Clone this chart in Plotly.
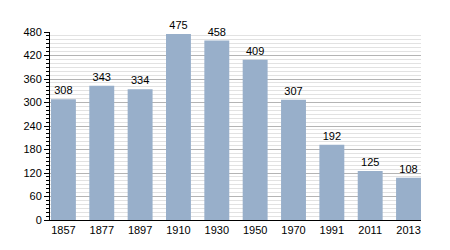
import plotly.graph_objects as go

years = ["1857", "1877", "1897", "1910", "1930", "1950", "1970", "1991", "2011", "2013"]
population = [308, 343, 334, 475, 458, 409, 307, 192, 125, 108]
y_ticks = [0, 60, 120, 180, 240, 300, 360, 420, 480]

positions = list(range(len(years)))

fig = go.Figure()
fig.add_trace(go.Bar(
    x=positions,
    y=population,
    width=0.65,
    marker=dict(color="#98AFCA", line=dict(width=0)),
    text=[str(v) for v in population],
    textposition="outside",
    textfont=dict(family="Liberation Sans, Arial, sans-serif", size=11, color="#000000"),
    cliponaxis=False,
))

fig.update_layout(
    width=450,
    height=250,
    margin=dict(l=50, r=29, t=32, b=30),
    paper_bgcolor="#ffffff",
    plot_bgcolor="#ffffff",
    showlegend=False,
    font=dict(family="Liberation Sans, Arial, sans-serif", size=11, color="#000000"),
    xaxis=dict(
        range=[-0.35, 9.325],
        tickmode="array",
        tickvals=positions,
        ticktext=years,
        showgrid=False,
        zeroline=False,
        showline=True,
        linecolor="#000000",
        linewidth=1,
        ticks="",
        tickfont=dict(size=11, color="#000000"),
    ),
    yaxis=dict(
        range=[0, 480],
        tickmode="array",
        tickvals=y_ticks,
        showgrid=True,
        gridcolor="#b4b4b4",
        gridwidth=1,
        zeroline=False,
        showline=True,
        linecolor="#000000",
        linewidth=1,
        ticks="outside",
        ticklen=5,
        tickcolor="#000000",
        tickfont=dict(size=11, color="#000000"),
        minor=dict(
            dtick=10,
            tick0=0,
            showgrid=True,
            gridcolor="#e2e2e2",
            gridwidth=1,
            ticks="outside",
            ticklen=3,
            tickcolor="#000000",
        ),
    ),
)

fig.write_html("out.html")
